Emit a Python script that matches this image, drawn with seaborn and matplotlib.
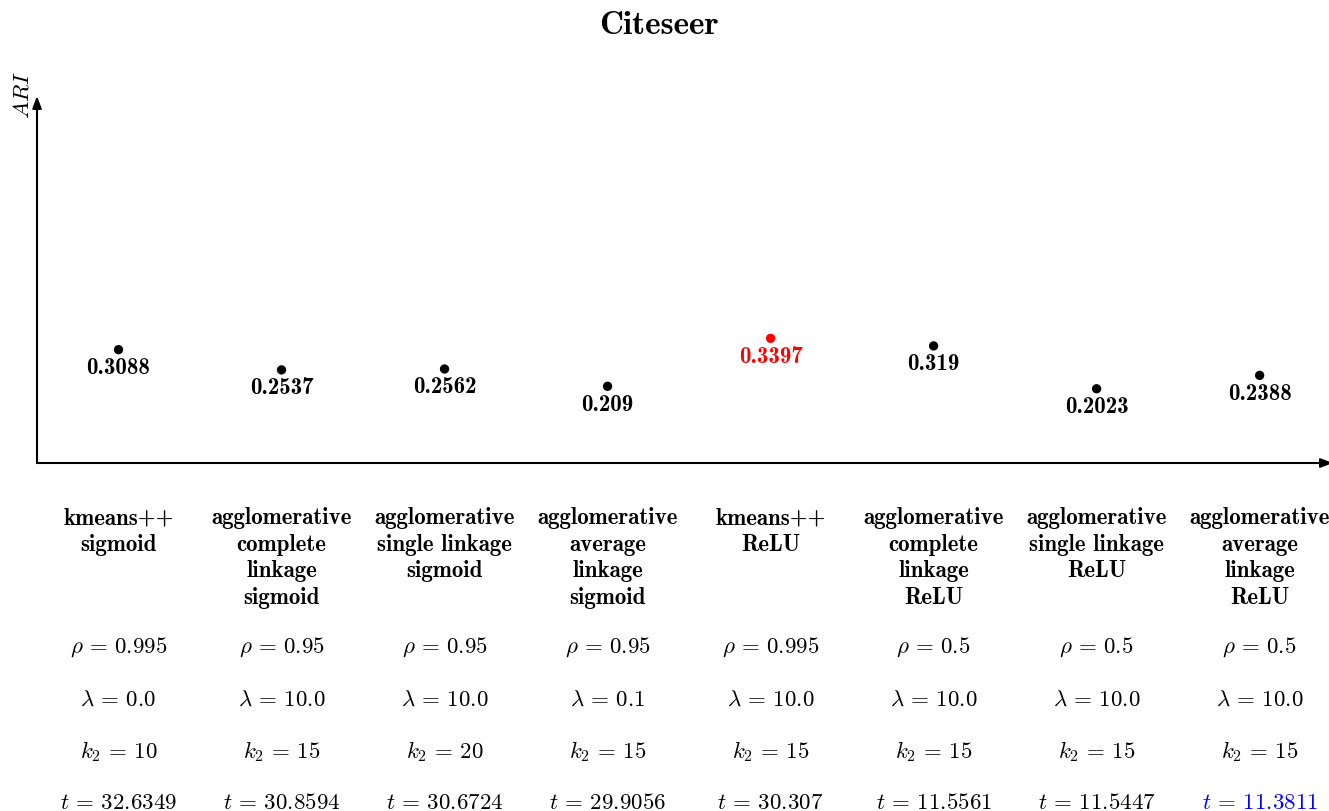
import numpy as np
import pandas as pd
import matplotlib
matplotlib.use("Agg")
import matplotlib.pyplot as plt
import matplotlib.transforms as mtransforms
import seaborn as sns

# Clustering configurations evaluated on Citeseer
methods = [
    "kmeans++\nsigmoid",
    "agglomerative\ncomplete\nlinkage\nsigmoid",
    "agglomerative\nsingle linkage\nsigmoid",
    "agglomerative\naverage\nlinkage\nsigmoid",
    "kmeans++\nReLU",
    "agglomerative\ncomplete\nlinkage\nReLU",
    "agglomerative\nsingle linkage\nReLU",
    "agglomerative\naverage\nlinkage\nReLU",
]
ari = [0.3088, 0.2537, 0.2562, 0.209, 0.3397, 0.319, 0.2023, 0.2388]
rho = [0.995, 0.95, 0.95, 0.95, 0.995, 0.5, 0.5, 0.5]
lam = [0.0, 10.0, 10.0, 0.1, 10.0, 10.0, 10.0, 10.0]
k2 = [10, 15, 20, 15, 15, 15, 15, 15]
runtime = [32.6349, 30.8594, 30.6724, 29.9056, 30.307, 11.5561, 11.5447, 11.3811]

sns.set_style("white")
plt.rcParams["mathtext.fontset"] = "cm"
plt.rcParams["axes.unicode_minus"] = False
plt.rcParams["text.color"] = "black"

W, H = 1329, 812
fig = plt.figure(figsize=(W / 100, H / 100), dpi=100, facecolor="white")

# axes placed in pixel terms
ax_left, ax_right, ax_bottom, ax_top = 37, 1333, 464, 97
ax = fig.add_axes([ax_left / W, 1 - ax_bottom / H,
                   (ax_right - ax_left) / W, (ax_bottom - ax_top) / H])

best = int(np.argmax(ari))
fastest = int(np.argmin(runtime))

df = pd.DataFrame({
    "pos": np.arange(len(methods)),
    "ari": ari,
    "kind": ["best" if i == best else "other" for i in range(len(methods))],
})
palette = {"best": "#ff0000", "other": "black"}

sns.scatterplot(data=df, x="pos", y="ari", hue="kind", palette=palette,
                s=45, edgecolor="none", legend=False, ax=ax, zorder=3)

ax.set_xlim(-0.5, 7.45)
ax.set_ylim(0, 1.0)
ax.set_xticks([])
ax.set_yticks([])
ax.set_xlabel("")
ax.set_ylabel("")
for sp in ax.spines.values():
    sp.set_visible(False)

# axis lines with arrow heads
arrow_kw = dict(arrowstyle="-|>,head_length=0.4,head_width=0.15",
                color="black", lw=1.5, shrinkA=0, shrinkB=0, mutation_scale=18)
ax.annotate("", xy=(0, 1), xytext=(0, 0), xycoords="axes fraction",
            arrowprops=arrow_kw, annotation_clip=False)
ax.annotate("", xy=(1, 0), xytext=(0, 0), xycoords="axes fraction",
            arrowprops=arrow_kw, annotation_clip=False)

BOLD = 16.5
MATH = 16.5

# value labels under each point
for i, v in enumerate(ari):
    col = palette[df["kind"][i]]
    ax.annotate(f"{v:g}", xy=(i, v), xytext=(0, -4.5), textcoords="offset points",
                ha="center", va="top", fontsize=BOLD, family="cmb10", color=col)

# table of settings below the axis
tr = mtransforms.blended_transform_factory(ax.transData, fig.transFigure)

def fy(px):
    return 1 - px / H

for i, name in enumerate(methods):
    ax.text(i, fy(507), name, transform=tr, ha="center", va="top",
            fontsize=BOLD, family="cmb10", linespacing=1.27)
    ax.text(i, fy(653), rf"$\rho\,=\,{rho[i]:g}$", transform=tr, ha="center",
            va="baseline", fontsize=MATH)
    ax.text(i, fy(706), rf"$\lambda\,=\,{lam[i]:.1f}$", transform=tr, ha="center",
            va="baseline", fontsize=MATH)
    ax.text(i, fy(758), rf"$k_2\,=\,{k2[i]}$", transform=tr, ha="center",
            va="baseline", fontsize=MATH)
    ax.text(i, fy(809), rf"$t\,=\,{runtime[i]:g}$", transform=tr, ha="center",
            va="baseline", fontsize=MATH,
            color="#0000ff" if i == fastest else "black")

fig.text(659 / W, fy(25), "Citeseer", ha="center", va="center",
         fontsize=24, family="cmb10")
fig.text(22 / W, fy(95), r"$ARI$", ha="center", va="center",
         rotation=90, fontsize=MATH)

fig.savefig("out.png", dpi=100, facecolor="white")
